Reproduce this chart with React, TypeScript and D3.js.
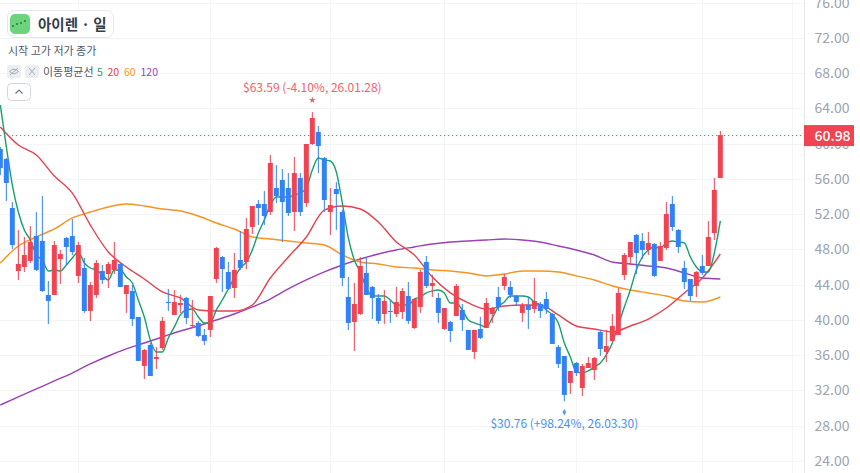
import { useEffect, useRef } from 'react';
import * as d3 from 'd3';

const FONT = '"Noto Sans CJK KR", "Noto Sans", sans-serif';
const RED = '#f04452';
const BLUE = '#3182f6';

const opens = [59.40, 58.26, 52.70, 45.55, 46.01, 46.69, 49.52, 48.96, 42.83, 42.83, 46.91, 49.30, 49.52, 44.99, 45.89, 41.01, 42.83, 45.55, 45.21, 45.67, 46.35, 42.94, 43.28, 40.33, 34.77, 37.15, 35.56, 36.81, 42.03, 40.56, 41.69, 42.49, 39.31, 39.65, 38.29, 38.86, 44.64, 47.14, 45.44, 43.62, 46.80, 46.57, 50.55, 53.16, 53.16, 52.25, 54.97, 55.88, 54.97, 52.25, 56.11, 53.27, 59.97, 61.33, 58.38, 52.25, 54.86, 52.25, 42.60, 39.76, 40.67, 45.33, 43.74, 42.49, 40.67, 41.01, 40.67, 40.90, 42.71, 39.08, 41.47, 46.57, 43.85, 42.49, 38.97, 39.76, 40.44, 41.13, 38.86, 36.36, 38.97, 39.08, 40.67, 42.60, 43.85, 43.74, 42.71, 40.79, 41.69, 41.24, 41.81, 42.37, 40.67, 36.93, 35.90, 32.84, 35.11, 32.27, 34.54, 34.31, 38.63, 36.36, 37.61, 38.29, 45.10, 47.14, 49.64, 48.96, 47.94, 48.62, 46.69, 48.16, 53.16, 50.21, 45.89, 44.64, 43.85, 46.12, 46.12, 49.86, 56.11];
const highs = [59.63, 58.38, 53.38, 50.21, 49.41, 50.66, 52.25, 54.06, 44.42, 48.96, 47.94, 49.41, 51.45, 48.84, 47.03, 44.30, 46.80, 46.23, 46.57, 48.84, 46.46, 43.96, 43.96, 40.33, 36.70, 37.38, 36.93, 40.33, 43.51, 43.40, 42.83, 42.60, 42.26, 39.88, 38.97, 42.71, 48.28, 47.25, 46.57, 47.59, 50.09, 51.57, 52.93, 53.61, 54.63, 58.72, 57.58, 57.13, 56.67, 58.49, 56.67, 59.97, 63.59, 62.01, 58.49, 54.97, 55.65, 52.47, 44.87, 44.19, 47.14, 47.14, 43.85, 42.94, 43.40, 42.26, 43.74, 43.62, 44.30, 42.49, 45.67, 47.25, 45.10, 43.06, 41.35, 39.88, 44.08, 41.81, 38.86, 38.86, 40.33, 42.49, 41.47, 43.74, 45.21, 44.42, 42.83, 41.92, 42.60, 44.76, 42.03, 43.17, 40.79, 37.15, 35.90, 34.20, 35.22, 35.00, 35.79, 35.79, 38.86, 38.86, 40.67, 43.62, 47.59, 48.84, 49.75, 49.86, 49.98, 48.73, 48.84, 53.38, 54.06, 50.32, 46.69, 44.64, 45.55, 47.37, 51.23, 56.11, 61.44];
const lows = [56.45, 53.50, 48.05, 44.53, 45.44, 46.46, 45.55, 43.17, 39.54, 42.83, 44.08, 46.23, 47.37, 44.19, 40.79, 39.88, 42.49, 44.08, 43.62, 45.21, 43.74, 40.79, 39.31, 35.34, 33.29, 33.63, 34.43, 36.59, 41.01, 40.56, 40.79, 39.54, 39.08, 38.06, 37.15, 38.06, 44.19, 43.17, 43.40, 42.49, 45.67, 45.78, 49.75, 50.77, 50.77, 51.91, 53.27, 48.84, 51.79, 50.09, 51.79, 52.82, 59.85, 56.67, 52.25, 49.64, 50.21, 43.85, 38.86, 36.47, 40.56, 42.83, 40.10, 39.54, 39.54, 39.65, 40.33, 40.10, 39.54, 38.97, 40.79, 43.62, 42.60, 39.65, 38.86, 37.49, 40.44, 38.74, 36.59, 35.56, 37.83, 39.08, 39.65, 41.01, 43.40, 42.49, 41.58, 39.76, 38.97, 40.79, 40.22, 40.67, 37.27, 34.54, 30.76, 31.59, 33.63, 31.36, 34.54, 33.18, 35.90, 35.22, 37.61, 38.29, 44.53, 46.23, 45.21, 46.91, 47.37, 44.87, 46.69, 47.94, 50.09, 47.59, 43.51, 42.15, 42.60, 45.10, 46.12, 49.07, 56.11];
const closes = [57.24, 55.54, 48.50, 46.35, 47.37, 48.84, 45.67, 43.28, 42.15, 48.50, 47.48, 48.28, 47.71, 48.50, 41.01, 43.96, 46.46, 44.53, 46.35, 46.80, 43.74, 43.96, 40.10, 35.34, 36.59, 33.63, 35.79, 39.88, 41.92, 42.03, 41.92, 40.22, 39.42, 38.17, 37.61, 42.71, 48.16, 45.78, 43.51, 45.67, 45.89, 50.32, 52.93, 52.70, 51.79, 57.81, 54.06, 53.38, 52.13, 56.67, 52.25, 59.97, 62.92, 59.74, 53.61, 53.04, 54.29, 44.76, 39.65, 41.81, 46.12, 42.83, 42.49, 39.88, 42.15, 40.90, 42.03, 43.28, 39.88, 42.37, 45.44, 43.85, 44.19, 40.79, 41.35, 38.74, 43.85, 39.99, 36.59, 38.86, 37.95, 41.92, 41.35, 41.47, 44.87, 42.83, 42.03, 41.69, 41.13, 42.15, 41.01, 41.24, 37.27, 35.00, 31.48, 34.20, 33.97, 34.77, 35.11, 35.68, 36.70, 37.04, 39.31, 43.06, 47.37, 48.84, 47.59, 47.94, 48.73, 44.99, 48.39, 52.02, 50.55, 48.28, 44.30, 42.71, 45.44, 45.33, 49.41, 54.75, 60.98];

// ma5 at every candle, the slower ones at every third candle
const ma5 = [64.39, 59.63, 55.31, 52.25, 50.21, 49.07, 47.37, 46.80, 45.55, 45.67, 45.55, 46.23, 47.03, 47.71, 46.46, 45.89, 45.67, 45.10, 44.53, 45.67, 45.67, 44.87, 44.19, 42.26, 40.33, 37.72, 36.36, 36.36, 37.95, 39.20, 40.56, 41.13, 41.24, 40.33, 39.65, 39.65, 41.13, 42.26, 43.51, 44.76, 45.89, 46.57, 47.94, 49.86, 51.34, 53.04, 53.95, 53.95, 53.95, 54.18, 54.40, 54.97, 57.02, 58.38, 58.15, 58.04, 56.79, 53.27, 49.30, 46.80, 45.44, 43.62, 42.71, 42.71, 42.71, 42.26, 41.69, 41.69, 41.69, 42.37, 42.60, 43.06, 43.28, 43.40, 43.06, 41.92, 41.92, 41.13, 39.99, 39.65, 39.42, 39.20, 40.22, 41.47, 42.03, 42.71, 42.71, 42.71, 42.60, 42.03, 41.69, 41.13, 40.56, 39.65, 37.38, 35.79, 34.09, 33.97, 34.20, 34.66, 35.11, 36.02, 37.38, 39.42, 41.47, 43.40, 45.67, 47.14, 47.94, 48.28, 48.16, 48.73, 48.96, 48.84, 48.73, 47.14, 46.01, 45.44, 45.44, 47.59, 51.23];
const ma20 = [61.89, 59.85, 58.72, 56.33, 54.40, 50.77, 47.71, 46.01, 44.64, 43.17, 42.49, 41.13, 41.01, 41.01, 41.69, 44.76, 47.14, 49.41, 52.47, 52.93, 52.59, 51.11, 48.84, 47.37, 44.87, 43.06, 41.92, 41.24, 41.58, 41.69, 41.69, 40.56, 39.31, 38.97, 38.63, 39.31, 40.10, 41.35, 43.06, 44.76, 47.48];
const ma60 = [46.46, 48.39, 49.41, 50.32, 51.57, 52.25, 52.82, 53.16, 52.93, 52.59, 52.36, 51.79, 51.00, 50.32, 49.41, 49.18, 48.96, 48.73, 48.50, 47.37, 46.57, 46.35, 46.01, 45.89, 45.67, 45.55, 45.33, 44.99, 45.21, 45.55, 45.55, 45.44, 44.99, 44.53, 43.85, 43.40, 43.06, 42.71, 42.15, 42.03, 42.60];
const ma120 = [30.34, 31.25, 32.16, 33.07, 33.97, 35.00, 35.90, 36.70, 37.38, 38.06, 38.74, 39.31, 39.99, 40.67, 41.47, 42.37, 43.51, 44.53, 45.44, 46.23, 46.91, 47.48, 47.94, 48.28, 48.62, 48.84, 48.96, 49.07, 49.18, 49.07, 48.84, 48.39, 47.94, 47.37, 46.57, 46.35, 46.12, 45.89, 45.33, 44.76, 44.64];

const priceTicks = [76, 72, 68, 64, 60, 56, 52, 48, 44, 40, 36, 32, 28, 24];
const monthStarts = [13, 35, 55, 74, 96, 117, 132];
const lastPrice = 60.98;
const highIndex = 52;
const lowIndex = 94;
const highLabel = '$63.59 (-4.10%, 26.01.28)';
const lowLabel = '$30.76 (+98.24%, 26.03.30)';

const title = '아이렌 · 일';
const ohlcLabel = '시작 고가 저가 종가';
const maLabel = '이동평균선';
const maPeriods = ['5', '20', '60', '120'];
const maColors = ['#1a9e6e', '#e2434f', '#f7931e', '#9b41b5'];

const W = 860;
const H = 473;
const plotRight = 804.5;

export default function App() {
  const svgRef = useRef<SVGSVGElement>(null);

  useEffect(() => {
    if (!svgRef.current) return;
    const svg = d3.select(svgRef.current);
    svg.select('.chart').remove();
    const g = svg.insert('g', '.legend').attr('class', 'chart');

    const x = d3.scaleLinear().domain([0, 120]).range([0.33, 720.33]);
    const y = d3.scaleLinear().domain([72, 28]).range([38, 425.6]);

    // grid
    g.selectAll('line.h')
      .data(priceTicks)
      .enter()
      .append('line')
      .attr('class', 'h')
      .attr('x1', 0)
      .attr('x2', plotRight)
      .attr('y1', d => Math.round(y(d)) + 0.5)
      .attr('y2', d => Math.round(y(d)) + 0.5)
      .attr('stroke', '#f2f4f6');
    g.selectAll('line.v')
      .data(monthStarts)
      .enter()
      .append('line')
      .attr('class', 'v')
      .attr('x1', d => Math.round(x(d)) + 0.5)
      .attr('x2', d => Math.round(x(d)) + 0.5)
      .attr('y1', 0)
      .attr('y2', H)
      .attr('stroke', '#f2f4f6');

    // moving averages sit under the candles
    const line = d3
      .line<number>()
      .x((_, i) => x(i))
      .y(d => y(d))
      .curve(d3.curveMonotoneX);
    const slowLine = d3
      .line<number>()
      .x((_, i) => x(i * 3))
      .y(d => y(d))
      .curve(d3.curveMonotoneX);
    [ma120, ma60, ma20].forEach(series => {
      const color = maColors[series === ma120 ? 3 : series === ma60 ? 2 : 1];
      g.append('path')
        .attr('d', slowLine(series))
        .attr('fill', 'none')
        .attr('stroke', color)
        .attr('stroke-width', 1.4);
    });
    g.append('path')
      .attr('d', line(ma5))
      .attr('fill', 'none')
      .attr('stroke', maColors[0])
      .attr('stroke-width', 1.4);

    // candles
    const candles = g
      .selectAll('g.candle')
      .data(closes)
      .enter()
      .append('g')
      .attr('class', 'candle')
      .attr('fill', (d, i) => (d >= opens[i] ? RED : BLUE));
    candles
      .append('rect')
      .attr('x', (_, i) => x(i) - 0.5)
      .attr('width', 1)
      .attr('y', (_, i) => y(highs[i]))
      .attr('height', (_, i) => y(lows[i]) - y(highs[i]));
    candles
      .append('rect')
      .attr('x', (_, i) => x(i) - 2.5)
      .attr('width', 5)
      .attr('y', (d, i) => y(Math.max(d, opens[i])))
      .attr('height', (d, i) => Math.max(1, Math.abs(y(d) - y(opens[i]))));

    // last price line
    g.append('line')
      .attr('x1', 0)
      .attr('x2', plotRight)
      .attr('y1', y(lastPrice) + 0.5)
      .attr('y2', y(lastPrice) + 0.5)
      .attr('stroke', RED)
      .attr('stroke-dasharray', '1 3');

    // high and low markers
    g.append('path')
      .attr('d', d3.symbol(d3.symbolStar, 14)())
      .attr('transform', `translate(${x(highIndex)},${y(highs[highIndex]) - 12})`)
      .attr('fill', '#f2606c');
    g.append('text')
      .attr('x', x(highIndex))
      .attr('y', y(highs[highIndex]) - 20)
      .attr('text-anchor', 'middle')
      .attr('font-family', FONT)
      .attr('font-size', 12)
      .attr('fill', '#f2606c')
      .text(highLabel);
    g.append('path')
      .attr('d', d3.symbol(d3.symbolDiamond, 12)())
      .attr('transform', `translate(${x(lowIndex)},${y(lows[lowIndex]) + 11})`)
      .attr('fill', '#5a9bf2');
    g.append('text')
      .attr('x', x(lowIndex))
      .attr('y', y(lows[lowIndex]) + 27)
      .attr('text-anchor', 'middle')
      .attr('font-family', FONT)
      .attr('font-size', 12)
      .attr('fill', '#4a90ee')
      .text(lowLabel);

    // price axis
    const axis = g
      .append('g')
      .attr('transform', `translate(${plotRight},0)`)
      .call(
        d3
          .axisRight(y)
          .tickValues(priceTicks)
          .tickSize(0)
          .tickPadding(10)
          .tickFormat(d => (d as number).toFixed(2))
      );
    axis.select('.domain').remove();
    axis
      .selectAll('text')
      .attr('font-family', FONT)
      .attr('font-size', 14)
      .attr('fill', '#9aa3af');
    g.append('line')
      .attr('x1', plotRight)
      .attr('x2', plotRight)
      .attr('y1', 0)
      .attr('y2', H)
      .attr('stroke', '#e5e8eb');

    // price tag
    g.append('rect')
      .attr('x', 804)
      .attr('y', y(lastPrice) - 10)
      .attr('width', 50)
      .attr('height', 21)
      .attr('fill', RED);
    g.append('text')
      .attr('x', 814.5)
      .attr('y', y(lastPrice) + 5.5)
      .attr('font-family', FONT)
      .attr('font-size', 14)
      .attr('font-weight', 500)
      .attr('fill', '#fff')
      .text(lastPrice.toFixed(2));
  }, []);

  let maX = 97;
  return (
    <svg
      ref={svgRef}
      width={W}
      height={H}
      style={{ position: 'fixed', left: 0, top: 0, background: '#fff' }}
      fontFamily={FONT}
    >
      <g className="legend">
        <rect x={7.5} y={10.5} width={106} height={27} rx={7} fill="#fff" stroke="#e5e8eb" />
        <rect x={10} y={14} width={20} height={20} rx={5} fill="#6bd47c" />
        {[[13, 26], [17, 24], [21, 23], [25, 21]].map(([cx, cy], i) => (
          <circle key={i} cx={cx} cy={cy} r={0.9} fill="#2c6b3c" />
        ))}
        <text x={38} y={29.5} fontSize={14.5} fontWeight={700} fill="#333d4b">{title}</text>
        <rect x={6} y={43} width={98} height={16} fill="#fff" fillOpacity={0.8} />
        <text x={8} y={55} fontSize={11} fill="#4e5968">{ohlcLabel}</text>
        <rect x={6} y={64} width={153} height={16} fill="#fff" fillOpacity={0.8} />
        <rect x={7} y={65} width={14} height={13} rx={2} fill="#eceef1" />
        <path d="M9.5 71.5 Q14 67 18.5 71.5 Q14 76 9.5 71.5 M10 75 L18 68" fill="none" stroke="#a4acb6" />
        <rect x={25} y={65} width={14} height={13} rx={2} fill="#eceef1" />
        <path d="M29 68 L35 75 M35 68 L29 75" fill="none" stroke="#a4acb6" />
        <text x={43} y={76} fontSize={11} fill="#4e5968">{maLabel}</text>
        {maPeriods.map((p, i) => {
          const px = maX;
          maX += p.length * 6 + 4.5;
          return (
            <text key={p} x={px} y={76} fontSize={10.5} fill={maColors[i]}>{p}</text>
          );
        })}
        <rect x={7.5} y={83.5} width={23} height={17} rx={4} fill="#fff" stroke="#d1d6db" />
        <path d="M15.5 93.5 L19 90 L22.5 93.5" fill="none" stroke="#6b7684" strokeWidth={1.2} />
      </g>
    </svg>
  );
}
